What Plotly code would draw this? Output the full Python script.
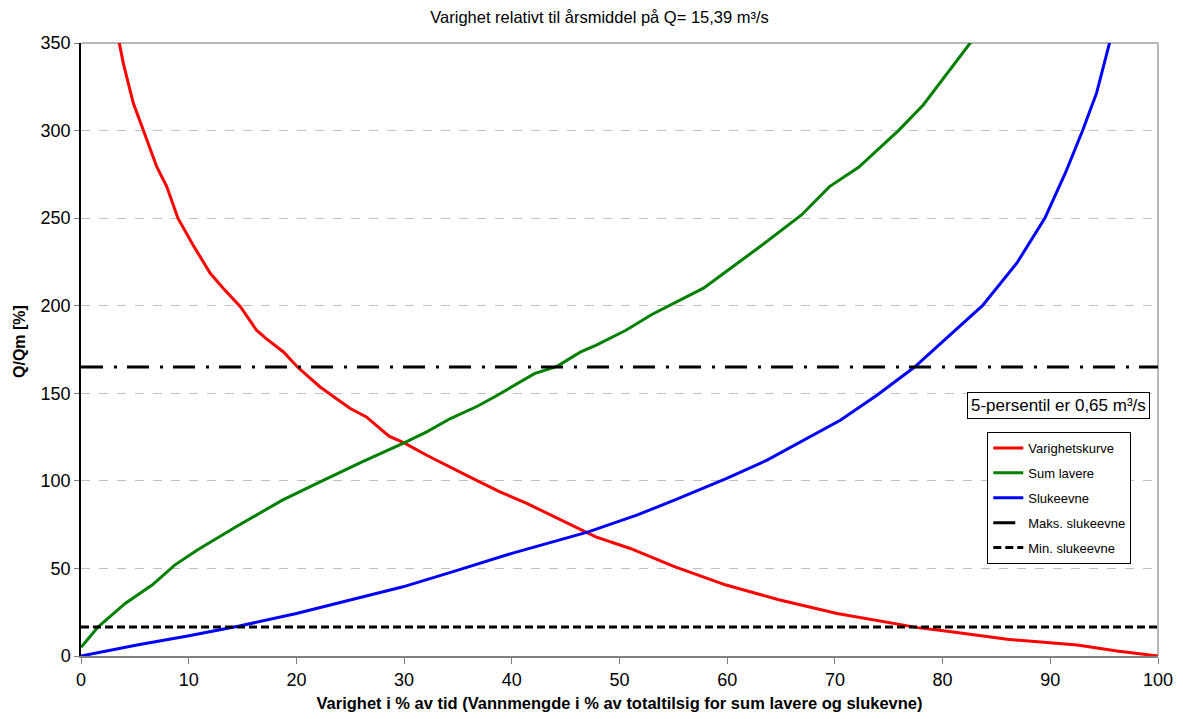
import plotly.graph_objects as go

# Varighetskurve (red)
var_x = [3.0, 3.56, 3.93, 4.86, 5.78, 7.03, 7.96, 9.0, 10.4, 12.0, 13.2, 14.8, 16.3, 17.2, 18.8,
         20.1, 22.2, 25.0, 26.5, 28.6, 30.0, 32.1, 36.4, 38.9, 41.4, 43.2, 45.6, 47.8, 51.0,
         55.1, 59.9, 64.7, 70.2, 75.7, 77.7, 80.8, 86.0, 89.4, 92.5, 96.2, 100.0]
var_y = [380, 349.8, 338.4, 315.6, 300.3, 279.4, 268, 250, 234.7, 218.5, 210, 199.4, 186, 181.2, 173.6,
         165, 153.6, 141.3, 136.5, 125.5, 121.7, 114.6, 101.3, 93.7, 87.1, 81.7, 74.7, 68, 61.4,
         51, 40.5, 32.3, 24.3, 18.6, 16.2, 13.9, 9.5, 7.8, 6.3, 2.9, 0]

# Sum lavere (green)
sum_x = [0.0, 1.6, 4.1, 6.6, 8.7, 10.8, 14.4, 18.7, 22.2, 26.1, 30.0, 32.1, 34.3, 36.8, 38.5,
         42.1, 44.2, 46.4, 47.8, 50.6, 53.0, 55.6, 57.8, 60.0, 63.0, 66.9, 69.5, 72.2, 75.9,
         78.2, 81.3, 82.6, 83.8]
sum_y = [5, 16.7, 30, 40.5, 51.9, 60.5, 73.8, 89, 99.4, 110.8, 121.7, 128, 135.6, 142.6, 148.3,
         161.2, 165.4, 173.6, 177.4, 186, 195, 203, 210, 220, 233.5, 251.8, 268, 279, 300,
         314.6, 340, 350, 360]

# Slukeevne (blue)
sluk_x = [0.0, 5.2, 9.9, 14.7, 20.0, 25.0, 29.9, 35.0, 40.0, 47.1, 51.6, 55.1, 59.9, 63.7, 67.1,
          70.5, 73.9, 77.4, 79.8, 83.7, 86.9, 89.5, 91.4, 93.0, 94.3, 95.5, 96.0]
sluk_y = [0, 6.3, 11.4, 17.1, 24.3, 31.9, 39.5, 49, 58.6, 70.9, 80.4, 89, 101.3, 111.8, 123.2,
          134.6, 148.9, 165, 178.3, 200, 224.4, 250, 275.8, 300, 321.5, 350, 365]

maks_sluk = 165
min_sluk = 16.5
x_range = [0, 100]
y_range = [0, 350]

fig = go.Figure()
fig.add_trace(go.Scatter(x=var_x, y=var_y, mode="lines", name="Varighetskurve",
                         line=dict(color="#ff0000", width=3), legendgroup="a"))
fig.add_trace(go.Scatter(x=sum_x, y=sum_y, mode="lines", name="Sum lavere",
                         line=dict(color="#008000", width=3), legendgroup="b"))
fig.add_trace(go.Scatter(x=sluk_x, y=sluk_y, mode="lines", name="Slukeevne",
                         line=dict(color="#0000ff", width=3), legendgroup="c"))
fig.add_trace(go.Scatter(x=x_range, y=[maks_sluk, maks_sluk], mode="lines", name="Maks. slukeevne",
                         line=dict(color="#000000", width=3, dash="22px,11px,3px,10px"), legendgroup="d"))
fig.add_trace(go.Scatter(x=x_range, y=[min_sluk, min_sluk], mode="lines", name="Min. slukeevne",
                         line=dict(color="#000000", width=3, dash="8px,4px"), legendgroup="e"))

font_family = "Liberation Sans, Arial, sans-serif"

fig.update_layout(
    width=1183, height=719,
    margin=dict(l=73, r=33, t=35, b=71),
    paper_bgcolor="white", plot_bgcolor="white",
    font=dict(family=font_family, color="#000000"),
    title=dict(text="Varighet relativt til årsmiddel på Q= 15,39 m³/s",
               x=0.4815, xref="paper", xanchor="center", y=0.987, yanchor="middle",
               font=dict(size=16.5, family=font_family)),
    showlegend=True,
    legend=dict(x=0.8415, y=0.3654, xanchor="left", yanchor="top",
                bgcolor="white", bordercolor="#000000", borderwidth=1,
                font=dict(size=13, family=font_family), tracegroupgap=5),
    xaxis=dict(range=x_range, dtick=10, tick0=0, showgrid=False,
               showline=True, linecolor="#808080", linewidth=2,
               ticks="outside", ticklen=6, tickcolor="#808080",
               tickfont=dict(size=18), zeroline=False,
               title=dict(text="<b>Varighet i % av tid (Vannmengde i % av totaltilsig for sum lavere og slukevne)</b>",
                          font=dict(size=16.5), standoff=9)),
    yaxis=dict(range=y_range, dtick=50, tick0=0, showgrid=True,
               gridcolor="#c0c0c0", griddash="dash", gridwidth=1,
               showline=True, linecolor="#000000", linewidth=1.5,
               ticks="outside", ticklen=5, tickcolor="#808080",
               tickfont=dict(size=18), zeroline=False),
    shapes=[dict(type="line", xref="paper", yref="paper", x0=0, x1=1, y0=1, y1=1,
                 line=dict(color="#a0a0a0", width=1.5), layer="below"),
            dict(type="line", xref="paper", yref="paper", x0=1, x1=1, y0=0, y1=1,
                 line=dict(color="#a0a0a0", width=1.5), layer="below")],
    annotations=[dict(text="5-persentil er 0,65 m³/s", xref="paper", yref="y",
                      x=0.993, y=143.3, xanchor="right", yanchor="middle", showarrow=False,
                      font=dict(size=17, family=font_family), bgcolor="white",
                      bordercolor="#000000", borderwidth=1, borderpad=3),
                 dict(text="<b>Q/Qm [%]</b>", xref="paper", yref="y",
                      x=-0.0566, y=179.3, xanchor="center", yanchor="middle", showarrow=False,
                      textangle=-90, font=dict(size=16, family=font_family))],
)

fig.write_html("out.html")
